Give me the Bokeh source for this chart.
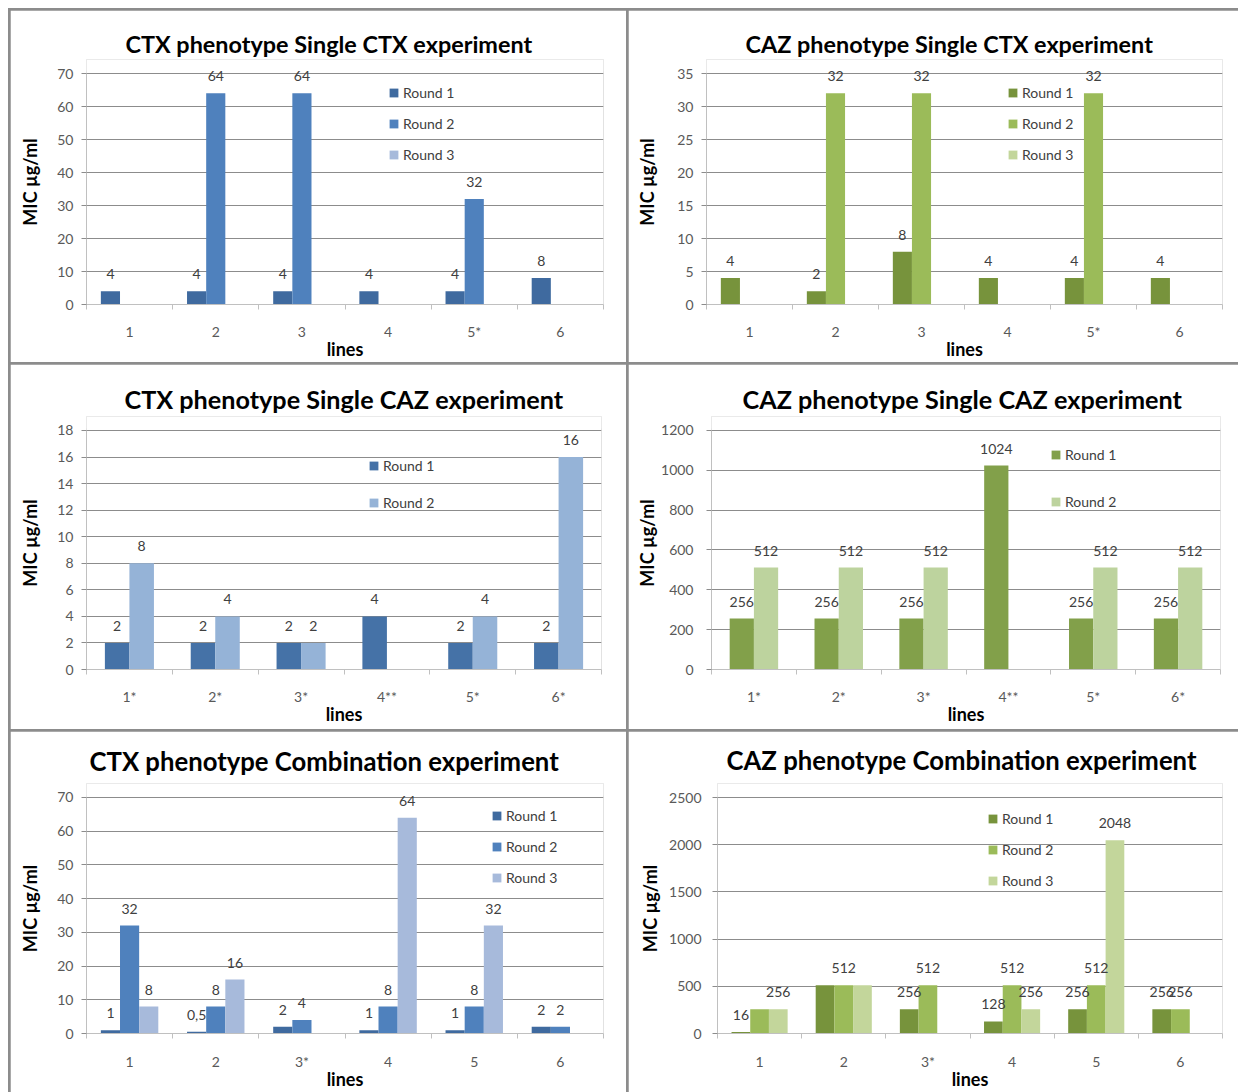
from bokeh.plotting import figure
from bokeh.models import (FixedTicker, Legend, LegendItem, Title, Range1d, Spacer,
                          Label, BoxAnnotation)
from bokeh.layouts import row, column
from bokeh.embed import file_html
from bokeh.resources import INLINE

# ---------------- data ----------------
rounds3 = ["Round 1", "Round 2", "Round 3"]
rounds2 = ["Round 1", "Round 2"]

# Panel 1: CTX phenotype, Single CTX experiment
p1_cats = ["1", "2", "3", "4", "5*", "6"]
p1_r1 = [4, 4, 4, 4, 4, 8]
p1_r2 = [None, 64, 64, None, 32, None]
p1_r3 = [None, None, None, None, None, None]

# Panel 2: CAZ phenotype, Single CTX experiment
p2_cats = ["1", "2", "3", "4", "5*", "6"]
p2_r1 = [4, 2, 8, 4, 4, 4]
p2_r2 = [None, 32, 32, None, 32, None]
p2_r3 = [None, None, None, None, None, None]

# Panel 3: CTX phenotype, Single CAZ experiment
p3_cats = ["1*", "2*", "3*", "4**", "5*", "6*"]
p3_r1 = [2, 2, 2, 4, 2, 2]
p3_r2 = [8, 4, 2, None, 4, 16]

# Panel 4: CAZ phenotype, Single CAZ experiment
p4_cats = ["1*", "2*", "3*", "4**", "5*", "6*"]
p4_r1 = [256, 256, 256, 1024, 256, 256]
p4_r2 = [512, 512, 512, None, 512, 512]

# Panel 5: CTX phenotype, Combination experiment
p5_cats = ["1", "2", "3*", "4", "5", "6"]
p5_r1 = [1, 0.5, 2, 1, 1, 2]
p5_r2 = [32, 8, 4, 8, 8, 2]
p5_r3 = [8, 16, None, 64, 32, None]

# Panel 6: CAZ phenotype, Combination experiment
p6_cats = ["1", "2", "3*", "4", "5", "6"]
p6_r1 = [16, 512, 256, 128, 256, 256]
p6_r2 = [256, 512, 512, 512, 512, 256]
p6_r3 = [256, 512, None, 256, 2048, None]
# which data labels are visible in the original
p6_show_r1 = [True, False, True, True, True, True]
p6_show_r2 = [False, True, True, True, True, True]
p6_show_r3 = [True, False, True, True, True, True]

blues3 = ["#3F6A9F", "#4F81BD", "#A7BADB"]
blues2 = ["#4572A7", "#95B3D7"]
greens3 = ["#77933C", "#9BBB59", "#C3D69B"]
greens2 = ["#82A04A", "#BDD39E"]

FONT = "Lato"
GRID = "#8c8c8c"
AXIS = "#c0c0c0"
EXT = 14  # extra headroom (px) above the top tick so value labels are not clipped


def fmt(v):
    return f"{v:g}".replace(".", ",")


def make_panel(title, cats, series, names, colors, ymax, ystep, width, height,
               mb, title_left, title_size, title_standoff, leg_xy, leg_pitch,
               ylab_standoff, ytick_standoff=8, shows=None,
               xtick_standoff=13, xlab_standoff=-5):
    n = len(series)
    barw = 1.0 / (n + 1.5)
    ncat = len(cats)
    frame_h = height - mb[2] - mb[3]
    yend = ymax * (frame_h + EXT) / frame_h
    p = figure(width=width, height=height, output_backend="svg", toolbar_location=None,
               x_range=Range1d(0.5, ncat + 0.5), y_range=Range1d(0, yend),
               min_border_left=mb[0], min_border_right=mb[1],
               min_border_top=mb[2] - EXT, min_border_bottom=mb[3],
               outline_line_color=None,
               title=Title(text=title, align="left", offset=title_left,
                           standoff=title_standoff, text_font=FONT,
                           text_font_size=f"{title_size}px", text_font_style="bold",
                           text_color="#000000"))
    p.outline_line_alpha = 0
    p.background_fill_color = "white"
    p.border_fill_color = "white"
    p.xgrid.visible = False
    p.ygrid.grid_line_color = GRID
    p.ygrid.grid_line_width = 1

    # white cover over the headroom strip above the top tick (value labels go on top)
    p.add_layout(BoxAnnotation(bottom=ymax * (1 + 2.0 / frame_h), fill_color="white",
                               fill_alpha=1.0, line_color=None, line_alpha=0,
                               level="overlay"))

    # y axis
    yax = p.yaxis[0]
    yax.bounds = (0, ymax)
    yax.ticker = FixedTicker(ticks=list(range(0, ymax + 1, ystep)))
    yax.axis_line_color = AXIS
    yax.major_tick_line_color = GRID
    yax.major_tick_out = 5
    yax.major_tick_in = 0
    yax.minor_tick_line_color = None
    yax.major_label_standoff = ytick_standoff
    yax.major_label_text_font = FONT
    yax.major_label_text_font_size = "14px"
    yax.major_label_text_color = "#595959"
    yax.axis_label = "MIC µg/ml"
    yax.axis_label_text_font = FONT
    yax.axis_label_text_font_size = "18px"
    yax.axis_label_text_font_style = "bold"
    yax.axis_label_text_color = "#000000"
    yax.axis_label_standoff = ylab_standoff

    # x axis (Excel style: ticks between categories)
    xax = p.xaxis[0]
    centers = [i + 1 for i in range(ncat)]
    bounds = [i + 0.5 for i in range(ncat + 1)]
    xax.ticker = FixedTicker(ticks=centers, minor_ticks=bounds)
    xax.major_label_overrides = {c: lab for c, lab in zip(centers, cats)}
    xax.axis_line_color = AXIS
    xax.major_tick_line_color = None
    xax.major_tick_out = 0
    xax.major_tick_in = 0
    xax.minor_tick_line_color = AXIS
    xax.minor_tick_out = 5
    xax.minor_tick_in = 0
    xax.major_label_standoff = xtick_standoff
    xax.major_label_text_font = FONT
    xax.major_label_text_font_size = "14px"
    xax.major_label_text_color = "#595959"
    xax.axis_label = "lines"
    xax.axis_label_text_font = FONT
    xax.axis_label_text_font_size = "18px"
    xax.axis_label_text_font_style = "bold"
    xax.axis_label_text_color = "#000000"
    xax.axis_label_standoff = xlab_standoff

    items = []
    for k, (vals, name, color) in enumerate(zip(series, names, colors)):
        off = (k - (n - 1) / 2) * barw
        # blank cells are drawn as zero-height bars (as the spreadsheet does)
        bx = [i + 1 + off for i in range(ncat)]
        btop = [0 if v is None else v for v in vals]
        r = p.vbar(x=bx, top=btop, bottom=0, width=barw, fill_color=color,
                   line_color=None)
        for i, v in enumerate(vals):
            if v is None:
                continue
            if shows is not None and not shows[k][i]:
                continue
            p.add_layout(Label(x=i + 1 + off, y=v, text=fmt(v),
                               text_align="center", text_baseline="bottom",
                               y_offset=12, text_font=FONT, level="overlay",
                               text_font_size="14px", text_color="#404040"))
        items.append(LegendItem(label=name, renderers=[r]))

    # legend positioned from the top tick of the value axis
    th = 17
    spacing = int(round(leg_pitch - th))
    leg_h = n * th + (n - 1) * spacing
    lx, ly_top = leg_xy
    loc = (lx - 1, frame_h - (ly_top - th / 2) - leg_h)
    leg = Legend(items=items, location=loc, orientation="vertical",
                 glyph_width=11, glyph_height=11, label_height=11,
                 spacing=spacing, padding=0, margin=0,
                 label_standoff=4, label_text_font=FONT,
                 label_text_font_size="14px", label_text_color="#404040",
                 background_fill_alpha=0, border_line_color=None)
    p.add_layout(leg, "center")
    return p


LW, RW = 616, 610
H1, H2, H3 = 352, 365, 361

f1 = make_panel("CTX phenotype Single CTX experiment", p1_cats, [p1_r1, p1_r2, p1_r3],
                rounds3, blues3, 70, 10, LW, H1, (76, 23, 63, 58), 39, 23.4, 4,
                (303, 19), 30.5, 13)
f2 = make_panel("CAZ phenotype Single CTX experiment", p2_cats, [p2_r1, p2_r2, p2_r3],
                rounds3, greens3, 35, 5, RW, H1, (78, 16, 63, 58), 39, 23.4, 4,
                (302, 19), 30.5, 16)
f3 = make_panel("CTX phenotype Single CAZ experiment", p3_cats, [p3_r1, p3_r2],
                rounds2, blues2, 18, 2, LW, H2, (76, 25, 65, 60), 38, 25.2, 6,
                (283, 36), 37, 13)
f4 = make_panel("CAZ phenotype Single CAZ experiment", p4_cats, [p4_r1, p4_r2],
                rounds2, greens2, 1200, 200, RW, H2, (83, 18, 66, 59), 31, 25.2, 6,
                (340, 25), 47, 0, ytick_standoff=13)
f5 = make_panel("CTX phenotype Combination experiment", p5_cats, [p5_r1, p5_r2, p5_r3],
                rounds3, blues3, 70, 10, LW, H3, (76, 23, 65, 58), 3, 25.7, 16,
                (406, 20), 30.5, 13, xtick_standoff=14)
f6 = make_panel("CAZ phenotype Combination experiment", p6_cats, [p6_r1, p6_r2, p6_r3],
                rounds3, greens3, 2500, 500, RW, H3, (89, 16, 66, 59), 9, 25.7, 17,
                (271, 21), 30.5, 5, ytick_standoff=11,
                shows=[p6_show_r1, p6_show_r2, p6_show_r3], xtick_standoff=14)

grid = column(row(f1, f2, spacing=2), row(f3, f4, spacing=2), row(f5, f6, spacing=2),
              spacing=2)
framed = column(Spacer(height=2), row(Spacer(width=2), grid, spacing=0), spacing=0,
                styles={"background-color": "#8c8c8c"})
layout = column(Spacer(height=8), row(Spacer(width=8), framed, spacing=0), spacing=0)

open("out.html", "w").write(file_html(layout, INLINE))
